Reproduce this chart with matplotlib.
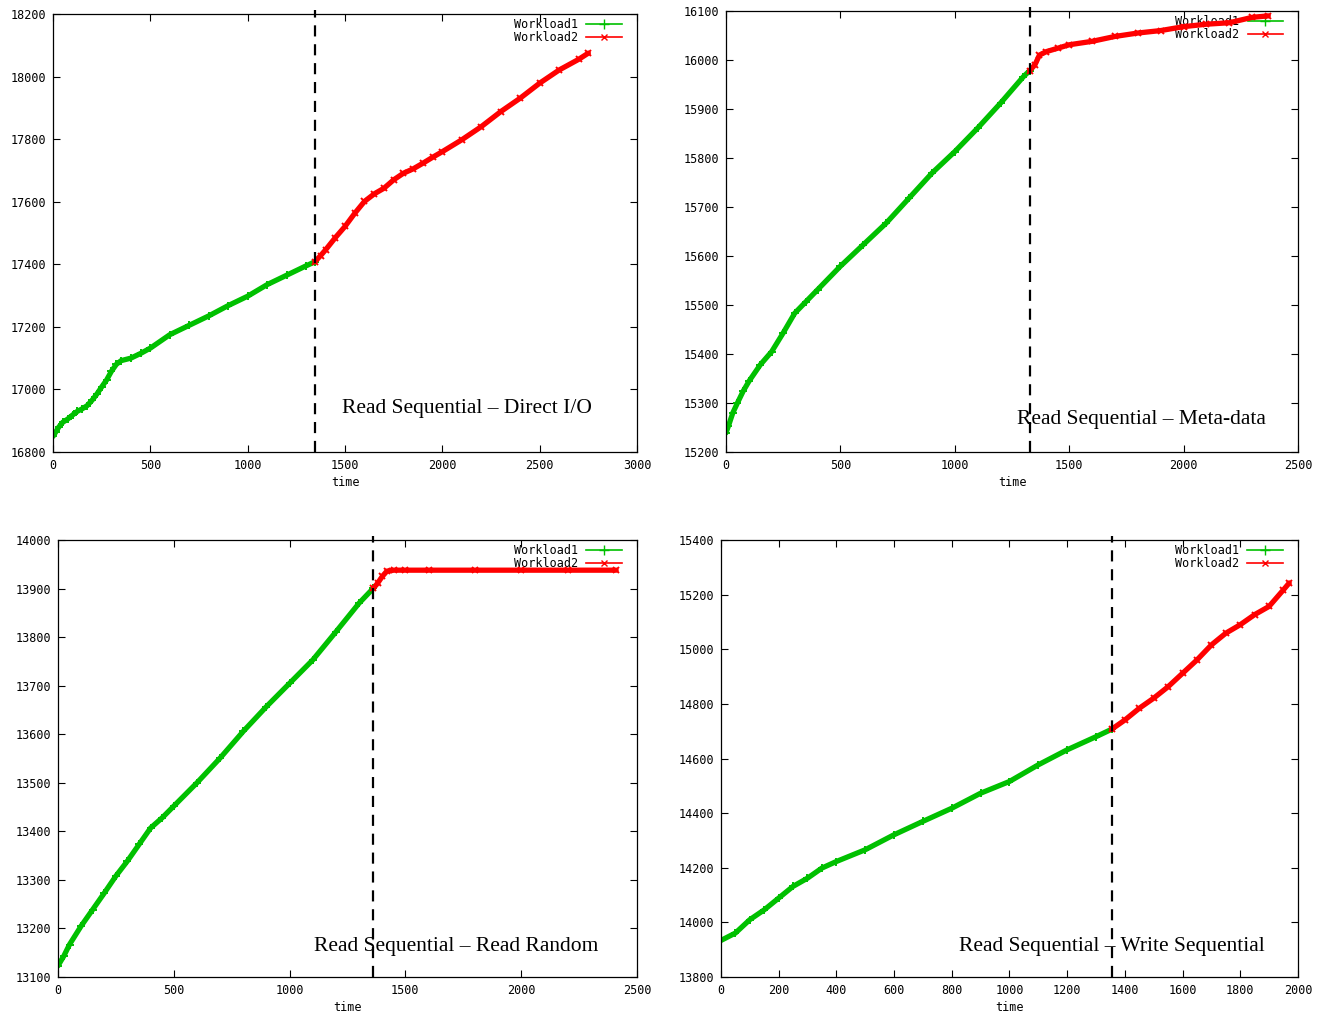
"""Four-panel workload trace figure (gnuplot look-alike)."""

import matplotlib

matplotlib.use("Agg")
import matplotlib.pyplot as plt
from matplotlib.lines import Line2D

GREEN = "#00c000"
RED = "#ff0000"
MONO = "DejaVu Sans Mono"

# Panel 1: Read Sequential - Direct I/O
p1_w1_t = [0, 15, 30, 50, 75, 100, 125, 150, 175, 200, 225, 250, 275, 300, 325,
           350, 400, 450, 500, 600, 700, 800, 900, 1000, 1100, 1200, 1300, 1345]
p1_w1_y = [16850, 16865, 16880, 16895, 16905, 16918, 16930, 16938, 16948, 16965,
           16985, 17008, 17030, 17058, 17080, 17092, 17100, 17115, 17132, 17175,
           17205, 17235, 17268, 17298, 17335, 17365, 17395, 17408]
p1_w2_t = [1345, 1375, 1400, 1450, 1500, 1550, 1600, 1650, 1700, 1750, 1800,
           1850, 1900, 1950, 2000, 2100, 2200, 2300, 2400, 2500, 2600, 2700, 2750]
p1_w2_y = [17408, 17428, 17446, 17485, 17521, 17563, 17601, 17625, 17643, 17670,
           17691, 17705, 17723, 17742, 17760, 17798, 17840, 17888, 17931, 17979,
           18021, 18055, 18075]
p1_split = 1345

# Panel 2: Read Sequential - Meta-data
p2_w1_t = [0, 10, 30, 50, 75, 100, 150, 200, 250, 300, 350, 400, 500, 600, 700,
           800, 900, 1000, 1100, 1200, 1300, 1327]
p2_w1_y = [15239, 15252, 15280, 15300, 15324, 15344, 15378, 15405, 15443, 15483,
           15507, 15531, 15579, 15623, 15667, 15718, 15769, 15813, 15861, 15912,
           15966, 15978]
p2_w2_t = [1327, 1350, 1370, 1400, 1450, 1500, 1600, 1700, 1800, 1900, 2000,
           2100, 2200, 2300, 2370]
p2_w2_y = [15978, 15990, 16010, 16017, 16024, 16031, 16038, 16048, 16055, 16060,
           16068, 16073, 16076, 16087, 16090]
p2_split = 1327

# Panel 3: Read Sequential - Read Random
p3_w1_t = [0, 25, 50, 100, 150, 200, 250, 300, 350, 400, 450, 500, 600, 700,
           800, 900, 1000, 1100, 1200, 1300, 1362]
p3_w1_y = [13123, 13143, 13167, 13205, 13239, 13273, 13308, 13339, 13373, 13407,
           13428, 13452, 13500, 13551, 13606, 13657, 13705, 13753, 13811, 13870,
           13901]
p3_w2_t = [1362, 1380, 1400, 1420, 1450, 1500, 1600, 1800, 2000, 2200, 2410]
p3_w2_y = [13901, 13911, 13925, 13936, 13938, 13938, 13938, 13938, 13938, 13938,
           13938]
p3_split = 1362

# Panel 4: Read Sequential - Write Sequential
p4_w1_t = [0, 50, 100, 150, 200, 250, 300, 350, 400, 500, 600, 700, 800, 900,
           1000, 1100, 1200, 1300, 1354]
p4_w1_y = [13934, 13961, 14010, 14046, 14089, 14132, 14162, 14199, 14223, 14266,
           14321, 14370, 14418, 14473, 14516, 14577, 14632, 14680, 14707]
p4_w2_t = [1354, 1400, 1450, 1500, 1550, 1600, 1650, 1700, 1750, 1800, 1850,
           1900, 1950, 1970]
p4_w2_y = [14707, 14741, 14784, 14821, 14863, 14912, 14961, 15016, 15059, 15090,
           15127, 15157, 15218, 15243]
p4_split = 1354

PANELS = [
    dict(rect=[0.040, 0.5547, 0.4404, 0.4315], xlim=(0, 3000), ylim=(16800, 18200),
         xticks=range(0, 3001, 500), yticks=range(16800, 18201, 200),
         w1=(p1_w1_t, p1_w1_y), w2=(p1_w2_t, p1_w2_y), split=p1_split,
         title="Read Sequential \u2013 Direct I/O", tpos=(0.709, 0.100)),
    dict(rect=[0.5475, 0.5547, 0.4314, 0.4345], xlim=(0, 2500), ylim=(15200, 16100),
         xticks=range(0, 2501, 500), yticks=range(15200, 16101, 100),
         w1=(p2_w1_t, p2_w1_y), w2=(p2_w2_t, p2_w2_y), split=p2_split,
         title="Read Sequential \u2013 Meta-data", tpos=(0.727, 0.073)),
    dict(rect=[0.0437, 0.0374, 0.4367, 0.4305], xlim=(0, 2500), ylim=(13100, 14000),
         xticks=range(0, 2501, 500), yticks=range(13100, 14001, 100),
         w1=(p3_w1_t, p3_w1_y), w2=(p3_w2_t, p3_w2_y), split=p3_split,
         title="Read Sequential \u2013 Read Random", tpos=(0.687, 0.069)),
    dict(rect=[0.5437, 0.0374, 0.4351, 0.4305], xlim=(0, 2000), ylim=(13800, 15400),
         xticks=range(0, 2001, 200), yticks=range(13800, 15401, 200),
         w1=(p4_w1_t, p4_w1_y), w2=(p4_w2_t, p4_w2_y), split=p4_split,
         title="Read Sequential \u2013 Write Sequential", tpos=(0.678, 0.069)),
]

# thin legend samples with a single marker, like gnuplot's key
HANDLES = [
    Line2D([], [], color=GREEN, marker="+", ms=7, mew=1, lw=1.2, label="Workload1"),
    Line2D([], [], color=RED, marker="x", ms=5, mew=1, lw=1.2, label="Workload2"),
]

fig = plt.figure(figsize=(13.26, 10.15), dpi=100)

for p in PANELS:
    ax = fig.add_axes(p["rect"])
    ax.plot(*p["w1"], color=GREEN, marker="+", ms=6, mew=1.4, lw=3.8,
            solid_joinstyle="round", solid_capstyle="round")
    ax.plot(*p["w2"], color=RED, marker="x", ms=5, mew=1.4, lw=3.8,
            solid_joinstyle="round", solid_capstyle="round")
    ax.axvline(p["split"], ymax=1.01, clip_on=False, color="black",
               ls=(0, (5, 3.5)), lw=1.6)
    ax.set_xlim(*p["xlim"])
    ax.set_ylim(*p["ylim"])
    ax.set_xticks(list(p["xticks"]))
    ax.set_yticks(list(p["yticks"]))
    ax.tick_params(direction="in", top=True, right=True, length=5, width=0.8,
                   labelsize=8.5, pad=5)
    for lab in ax.get_xticklabels() + ax.get_yticklabels():
        lab.set_family(MONO)
    ax.set_xlabel("time", family=MONO, fontsize=8.5, labelpad=3)
    for s in ax.spines.values():
        s.set_linewidth(0.9)
    leg = ax.legend(handles=HANDLES, loc="upper right", bbox_to_anchor=(0.978, 0.997),
                    frameon=False, markerfirst=False, numpoints=1,
                    prop={"family": MONO, "size": 8.5}, handlelength=3.0,
                    labelspacing=0.0, borderaxespad=0.0, handletextpad=0.7,
                    borderpad=0.2)
    leg.set_zorder(1)
    ax.text(*p["tpos"], p["title"], transform=ax.transAxes, ha="center",
            va="center", family="Liberation Serif", fontsize=15.5)

fig.savefig("out.png", dpi=100)
